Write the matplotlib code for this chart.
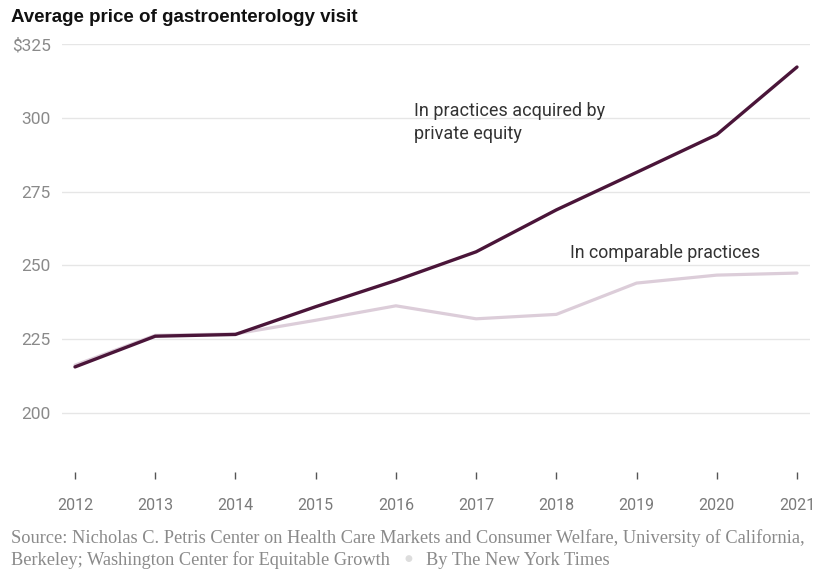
import matplotlib
matplotlib.use("Agg")
import matplotlib.pyplot as plt

years = [2012, 2013, 2014, 2015, 2016, 2017, 2018, 2019, 2020, 2021]
pe_price = [215.6, 226.0, 226.6, 236.0, 244.9, 254.6, 268.8, 281.5, 294.3, 317.2]
comp_price = [216.2, 226.3, 226.8, 231.4, 236.3, 231.9, 233.4, 244.0, 246.7, 247.4]
y_ticks = [200, 225, 250, 275, 300, 325]
y_labels = ["200", "225", "250", "275", "300", "$325"]

dark = "#4a1539"
light = "#dccdd9"
sans = ["Roboto", "DejaVu Sans"]
serif = ["Liberation Serif", "DejaVu Serif"]

fig = plt.figure(figsize=(8.23, 5.69), dpi=100)
ax = fig.add_axes([62 / 823, 1 - 472 / 569, 748 / 823, 428 / 569])

ax.plot(years, comp_price, color=light, lw=2.3, solid_capstyle="round", clip_on=False)
ax.plot(years, pe_price, color=dark, lw=2.4, solid_capstyle="round", clip_on=False)

ax.set_xlim(2012 - 13 / 80.2, 2021 + 13 / 80.2)
ax.set_ylim(180, 325)

for s in ax.spines.values():
    s.set_visible(False)
ax.set_yticks(y_ticks)
ax.set_yticklabels(y_labels, family=sans, fontsize=12.5, color="#8a8a8a")
ax.tick_params(axis="y", length=0, pad=8)
ax.grid(axis="y", color="#e6e6e6", lw=1)
ax.set_axisbelow(True)

ax.set_xticks(years)
ax.set_xticklabels([str(y) for y in years], family=sans, fontsize=11.5, color="#7a7a7a")
ax.tick_params(axis="x", length=5, width=1, color="#555555", pad=14)

ax.text(2016.22, 305.2, "In practices acquired by\nprivate equity", family=sans,
        fontsize=13, color="#333333", va="top", ha="left", linespacing=1.3)
ax.text(2018.17, 251, "In comparable practices", family=sans,
        fontsize=12.8, color="#333333", va="bottom", ha="left")

fig.text(11 / 823, 1 - 22 / 569, "Average price of gastroenterology visit",
         family=["Liberation Sans", "DejaVu Sans"], fontweight="bold", fontsize=13.5, color="#111111")

src1 = "Source: Nicholas C. Petris Center on Health Care Markets and Consumer Welfare, University of California,"
src2 = "Berkeley; Washington Center for Equitable Growth"
fig.text(11 / 823, 1 - 543 / 569, src1, family=serif, fontsize=13.2, color="#8a8a8a")
fig.text(11 / 823, 1 - 565 / 569, src2, family=serif, fontsize=13.2, color="#8a8a8a")
fig.text(408 / 823, 1 - 558 / 569, "\u25cf", family="DejaVu Sans", fontsize=6.5, color="#dddddd",
         ha="center", va="center")
fig.text(426 / 823, 1 - 565 / 569, "By The New York Times", family=serif,
         fontsize=13.2, color="#8a8a8a")

fig.savefig("out.png", dpi=100)
